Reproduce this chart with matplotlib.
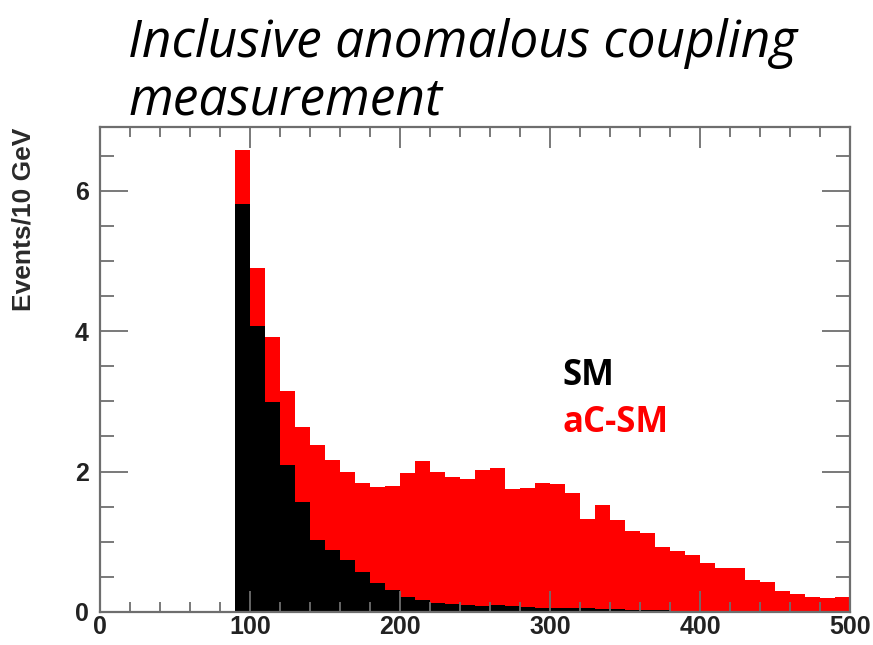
import numpy as np
import matplotlib
matplotlib.use("Agg")
import matplotlib.pyplot as plt
from matplotlib.ticker import MultipleLocator

# 10 GeV bins from 90 to 500 GeV
bin_edges = np.arange(90, 501, 10)

# total (SM + anomalous coupling) events per bin
total = [6.58, 4.90, 3.92, 3.15, 2.63, 2.38, 2.17, 2.00, 1.84, 1.78,
         1.79, 1.98, 2.15, 2.00, 1.92, 1.90, 2.02, 2.05, 1.75, 1.77,
         1.84, 1.82, 1.70, 1.32, 1.52, 1.31, 1.16, 1.12, 0.93, 0.87,
         0.81, 0.70, 0.63, 0.62, 0.45, 0.43, 0.30, 0.26, 0.21, 0.20,
         0.21]

# standard model events per bin
sm = [5.81, 4.07, 2.99, 2.09, 1.57, 1.03, 0.89, 0.74, 0.57, 0.41,
      0.31, 0.22, 0.17, 0.13, 0.11, 0.10, 0.09, 0.10, 0.08, 0.07,
      0.06, 0.06, 0.05, 0.05, 0.04, 0.04, 0.03, 0.03, 0.03, 0.02,
      0.02, 0.02, 0.02, 0.01, 0.01, 0.01, 0.01, 0.01, 0.01, 0.01,
      0.01]

fig = plt.figure(figsize=(8.73, 6.45), dpi=100)
ax = fig.add_axes([0.1145, 0.0512, 0.8592, 0.752])

ax.stairs(total, bin_edges, fill=True, color="#ff0000", linewidth=0)
ax.stairs(sm, bin_edges, fill=True, color="black", linewidth=0)

ax.set_xlim(0, 500)
ax.set_ylim(0, 6.91)

ax.xaxis.set_major_locator(MultipleLocator(100))
ax.xaxis.set_minor_locator(MultipleLocator(20))
ax.yaxis.set_major_locator(MultipleLocator(2))
ax.yaxis.set_minor_locator(MultipleLocator(0.5))

frame = "#6e6e6e"
for s in ax.spines.values():
    s.set_color(frame)
    s.set_linewidth(1.6)
ax.tick_params(which="both", direction="in", top=True, right=True,
               color=frame, width=1.3)
ax.tick_params(axis="y", which="major", length=20)
ax.tick_params(axis="y", which="minor", length=10)
ax.tick_params(axis="x", which="major", length=15)
ax.tick_params(axis="x", which="minor", length=7)
ax.tick_params(axis="x", pad=2)
ax.tick_params(axis="y", pad=8)

for lab in ax.get_xticklabels() + ax.get_yticklabels():
    lab.set_fontfamily("Liberation Sans")
    lab.set_fontweight("bold")
    lab.set_fontsize(18)
    lab.set_color("#222222")

ax.set_ylabel("Events/10 GeV", fontfamily="Liberation Sans",
              fontweight="bold", fontsize=19, color="#2a2a2a")
ax.yaxis.set_label_coords(-0.086, 0.81)

ax.text(308, 3.23, "SM", fontfamily="Open Sans", fontweight="bold",
        fontsize=25, color="black")
ax.text(308, 2.56, "aC-SM", fontfamily="Open Sans", fontweight="bold",
        fontsize=25, color="#ff0000")

fig.text(0.147, 0.972, "Inclusive anomalous coupling\nmeasurement",
         fontfamily="Open Sans", fontstyle="italic", fontsize=37,
         va="top", ha="left", linespacing=1.17, color="black")

fig.savefig("out.png", dpi=100)
